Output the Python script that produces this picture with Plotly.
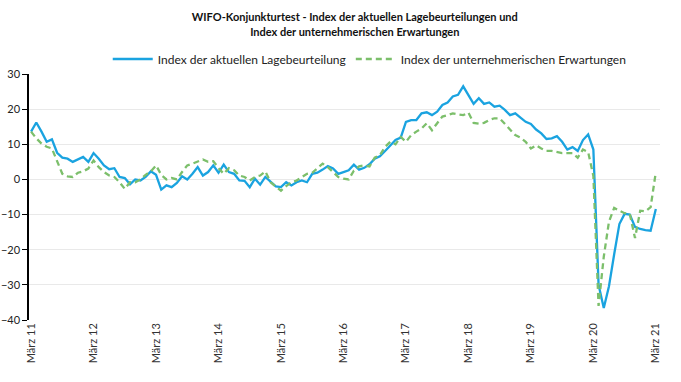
import plotly.graph_objects as go

months = list(range(121))  # März 2011 .. März 2021, monthly
tick_years = ["11", "12", "13", "14", "15", "16", "17", "18", "19", "20", "21"]
tick_labels = ["März " + y for y in tick_years]
tick_pos = [12 * k for k in range(len(tick_years))]

lage = [
    13.6, 16.2, 13.6, 10.7, 11.4, 7.6, 6.2, 5.9, 5.0, 5.6, 6.4, 5.0,
    7.5, 5.9, 4.0, 2.9, 3.2, 0.7, 0.4, -1.4, 0.0, -0.3, 0.7, 2.3,
    1.3, -2.9, -1.7, -2.2, -1.0, 0.9, 0.0, 1.6,
    3.5, 1.1, 2.1, 4.0, 1.9, 4.2, 2.1, 1.6, -0.3, -0.4, -2.2, 0.2, -1.5, 0.7, -0.8, -2.0,
    -2.2, -0.8, -1.7, -0.8, -0.3, -0.8, 1.6, 1.9, 2.8, 3.8, 3.1, 1.6, 2.1, 2.6, 4.2,
    2.8, 3.3, 4.3, 5.9, 6.6, 8.1, 9.7, 11.2, 11.9, 16.4, 16.9, 16.9, 18.8, 19.1, 18.3,
    19.3, 21.2, 21.9, 23.6, 24.1, 26.5, 24.1, 21.5, 23.1, 21.5, 21.9, 20.7, 21.0, 19.8,
    18.3, 18.8, 17.6, 16.4, 15.8, 14.2, 13.1, 11.5, 11.7, 12.3, 10.7, 8.5, 9.2, 8.1,
    11.2, 12.8, 8.5, -30.0, -36.6, -30.4, -21.3, -12.7, -9.8, -10.0, -13.5, -14.1,
    -14.4, -14.6, -8.4,
]

erwartungen = [
    13.6, 11.7, 10.2, 9.3, 8.8, 5.0, 1.6, 0.9, 0.7, 1.9, 2.3, 3.1,
    5.4, 3.5, 2.1, 1.1, 0.7, -0.8, -2.7, -0.8, -0.8, 0.0, 1.3, 2.3,
    4.0, 1.3, 0.0, 0.4, 0.0, 2.1, 4.0, 4.5,
    5.0, 5.7, 5.0, 5.2, 3.2, 1.6, 3.2, 2.6, 1.1, 0.7, -0.3, 0.7, 1.1, 2.3, -0.8, -1.9,
    -3.2, -1.9, -0.8, -0.3, 0.7, 1.6, 1.9, 3.1, 4.5, 3.5, 2.1, 0.7, 0.2, 0.0, 2.5,
    3.7, 4.0, 3.7, 6.2, 6.9, 9.3, 10.7, 10.0, 12.1, 10.7, 12.6, 13.6, 14.5, 16.0, 14.0,
    16.0, 17.9, 18.3, 18.8, 18.5, 18.3, 19.0, 16.1, 15.9, 16.1, 16.9, 17.4, 17.4, 15.9,
    14.2, 12.6, 11.9, 10.7, 8.8, 9.7, 8.8, 8.1, 8.1, 7.8, 7.5, 7.5, 7.5, 6.2,
    8.5, 7.8, 1.0, -36.0, -22.0, -12.0, -8.1, -8.9, -9.6, -9.8, -16.7, -8.9,
    -9.1, -7.9, 2.1,
]

FONT = "Lato, 'Open Sans', sans-serif"
BLUE = "#1aa3e0"
GREEN = "#7cbf6b"

fig = go.Figure()
fig.add_trace(go.Scatter(x=months, y=lage, mode="lines",
                         name="Index der aktuellen Lagebeurteilung",
                         line=dict(color=BLUE, width=2.3)))
fig.add_trace(go.Scatter(x=months, y=erwartungen, mode="lines",
                         name="Index der unternehmerischen Erwartungen",
                         line=dict(color=GREEN, width=2.3, dash="6px,4px")))

xr = [-0.4, 120.8]
zero_pos = 40 / 70

fig.update_layout(
    width=681, height=382,
    margin=dict(l=29, r=21, t=74, b=62, autoexpand=False),
    paper_bgcolor="white", plot_bgcolor="white",
    font=dict(family=FONT, size=11, color="#222222"),
    title=dict(
        text="<b>WIFO-Konjunkturtest - Index der aktuellen Lagebeurteilungen und<br>Index der unternehmerischen Erwartungen</b>",
        x=0.521, xanchor="center", y=0.944, yanchor="top",
        font=dict(family=FONT, size=11, color="#111111"),
    ),
    legend=dict(orientation="h", x=0.54, xanchor="center", y=1.061, yanchor="middle",
                font=dict(family=FONT, size=12, color="#222222"),
                bgcolor="rgba(0,0,0,0)", itemwidth=40, tracegroupgap=0),
    showlegend=True,
    xaxis=dict(range=xr, tickvals=tick_pos, ticktext=tick_labels, tickangle=-90,
               showgrid=False, showline=False, zeroline=False, ticks="",
               automargin=False,
               tickfont=dict(family=FONT, size=11, color="#333333")),
    xaxis2=dict(range=xr, overlaying="x", anchor="free", position=zero_pos,
                tickvals=tick_pos, showticklabels=False, showgrid=False,
                showline=True, linecolor="black", linewidth=1.5, automargin=False,
                ticks="outside", ticklen=4, tickcolor="black", tickwidth=1.2, zeroline=False),
    xaxis3=dict(range=xr, overlaying="x", anchor="free", position=zero_pos,
                tickvals=tick_pos, showticklabels=False, showgrid=False, automargin=False,
                showline=False, ticks="inside", ticklen=4, tickcolor="black",
                tickwidth=1.2, zeroline=False),
    yaxis=dict(range=[-40, 30], dtick=10, showgrid=True, gridcolor="#e9e9e9",
               gridwidth=1, showline=True, linecolor="black", linewidth=1.5,
               ticks="outside", ticklen=5, tickcolor="black", zeroline=False,
               automargin=False,
               tickfont=dict(family=FONT, size=11, color="#222222")),
)

fig.write_html("out.html", config={"displayModeBar": False},
               post_script="document.body.style.margin='0';")
